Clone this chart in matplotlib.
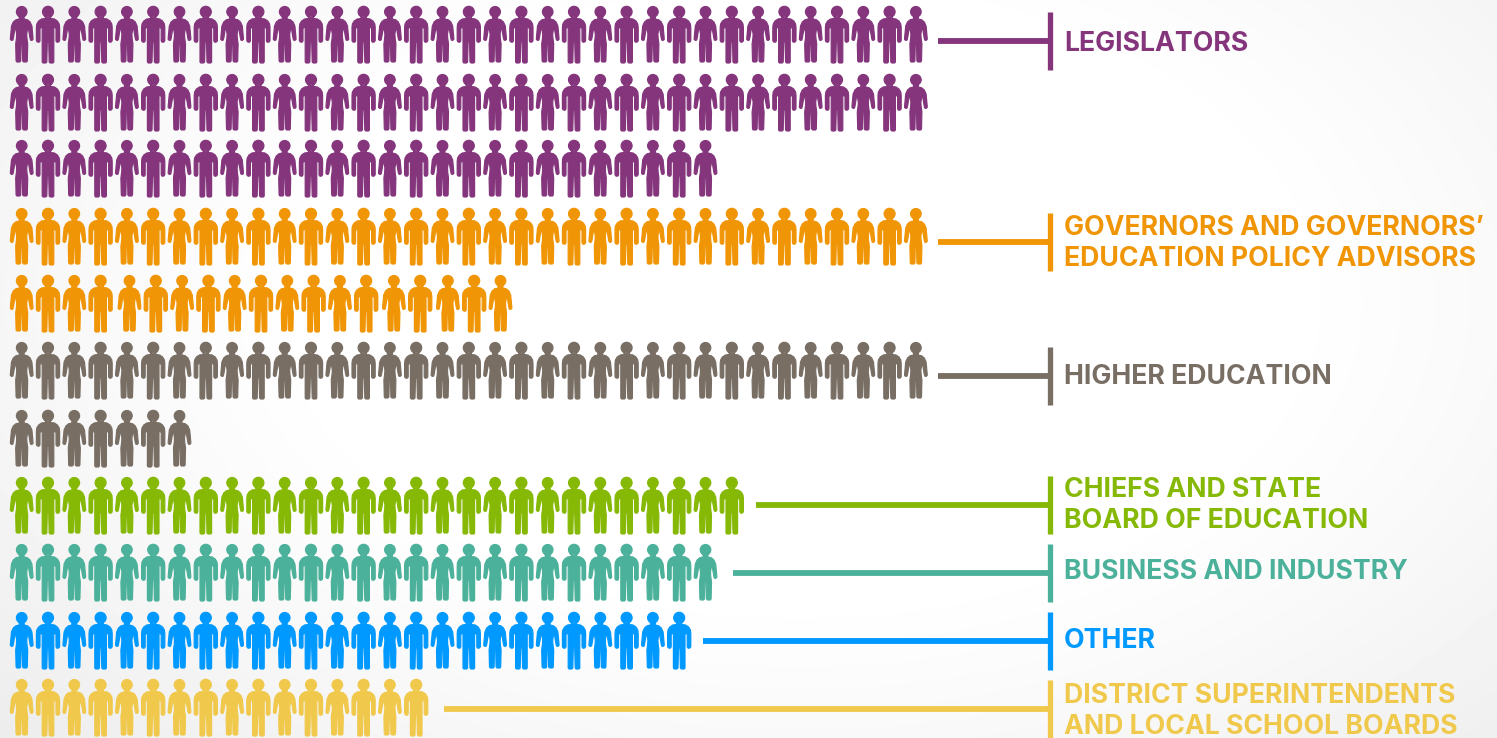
import numpy as np
import matplotlib
matplotlib.use('Agg')
import matplotlib.pyplot as plt
from matplotlib.path import Path
from matplotlib.collections import PathCollection
from matplotlib.transforms import IdentityTransform

# icons per row, one list for each group
row_counts = [[35, 35, 27], [35, 19], [35, 7], [28], [27], [26], [16]]
labels = [['LEGISLATORS'],
          ['GOVERNORS AND GOVERNORS’', 'EDUCATION POLICY ADVISORS'],
          ['HIGHER EDUCATION'],
          ['CHIEFS AND STATE', 'BOARD OF EDUCATION'],
          ['BUSINESS AND INDUSTRY'],
          ['OTHER'],
          ['DISTRICT SUPERINTENDENTS', 'AND LOCAL SCHOOL BOARDS']]
colors = ['#84357C', '#F09505', '#786E64', '#86B806', '#4BB19A', '#0099FF', '#F0C94C']

# layout in pixels
row_tops = [6, 74, 140, 208, 275, 342, 410, 477, 544, 612, 679]
line_y = [41, 242, 376, 505, 573, 641, 709]
line_start = [938, 938, 938, 756, 733, 703, 444]
label_y = [[41], [225, 256], [374], [487, 518], [569], [638], [693, 724]]
x0 = 21.7
step = 26.3
bar_x = 1050

male_half = [(2.6, 10), (2.6, 12.5), (6.4, 13), (9.4, 15), (11.2, 18), (11.6, 21.5), (11.6, 34.5),
             (11, 35.8), (9.4, 36.3), (8.4, 35.8), (8, 34.5), (8, 22.5), (6.8, 21.5), (5.8, 22),
             (5.8, 56), (5, 57), (2.2, 57), (1.2, 56), (0.7, 36)]
female_half = [(2.4, 10.5), (2.4, 13), (5.8, 13.8), (8.4, 16), (10.2, 20), (11.3, 32), (11.3, 33.5),
               (10, 34.5), (8.8, 34), (8.3, 32), (6.8, 23), (6, 22), (5, 28), (5.2, 32),
               (6, 38), (5.6, 55), (4.8, 56), (2, 56), (1, 55), (0.6, 38)]


def person(half, r):
    # outline mirrored around x=0, y goes down from the top of the icon
    pts = [(x, -y) for x, y in half] + [(-x, -y) for x, y in reversed(half)]
    body = Path(pts + [pts[0]], closed=True)
    head = Path.circle((0, -5.8), r)
    return Path.make_compound_path(body, head)


paths = [person(female_half, 5.3), person(male_half, 5.5)]

fig = plt.figure(figsize=(14.97, 7.38), dpi=100)
ax = fig.add_axes([0, 0, 1, 1])
ax.set_xlim(0, 1497)
ax.set_ylim(738, 0)
ax.axis('off')

# pale background, darker towards the edges
yy, xx = np.mgrid[0:738, 0:1497]
d = np.sqrt(((xx - 800) / 850) ** 2 + ((yy - 300) / 520) ** 2)
bg = 1 - 0.11 * np.clip(d - 0.55, 0, 1) ** 1.2
ax.imshow(bg, extent=[0, 1497, 738, 0], cmap='gray', vmin=0, vmax=1, aspect='auto', zorder=0)

row = 0
for counts, color, names, ly, ys, start in zip(row_counts, colors, labels, line_y, label_y, line_start):
    for n in counts:
        xs = x0 + step * np.arange(n)
        # second orange row is spaced a bit unevenly
        if row == 4:
            xs = xs + np.where(np.arange(n) >= 4, 2.6, 0) + np.where(np.arange(n) >= 14, 1.4, 0) + np.where(np.arange(n) >= 16, 1.4, 0)
        offs = np.column_stack([xs, np.full(n, row_tops[row])])
        coll = PathCollection(paths, offsets=offs, offset_transform=ax.transData,
                              facecolors=color, edgecolors=color, linewidths=0.85, joinstyle='round', zorder=2)
        coll.set_transform(IdentityTransform())
        ax.add_collection(coll)
        row += 1
    ax.plot([start, bar_x], [ly, ly], color=color, lw=4.2, solid_capstyle='butt', zorder=2)
    ax.plot([bar_x, bar_x], [ly - 29, ly + 29], color=color, lw=3.8, solid_capstyle='butt', zorder=2)
    for name, y in zip(names, ys):
        ax.text(1064, y, name, color=color, family='Inter', fontweight='bold', fontsize=19.2,
                va='center_baseline', ha='left', zorder=3)

fig.savefig('out.png', dpi=100)
